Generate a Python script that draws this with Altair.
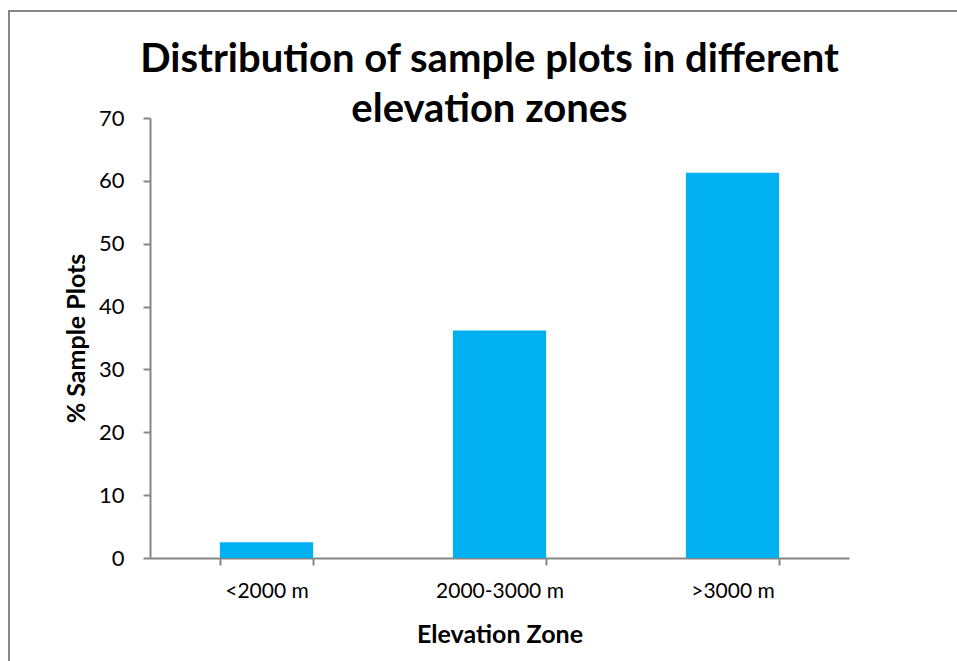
import altair as alt
import pandas as pd

# Share of sample plots per elevation zone (%)
zones = ["<2000 m", "2000-3000 m", ">3000 m"]
share = [2.5, 36.2, 61.3]

df = pd.DataFrame({"zone": zones, "share": share})

AXIS_GRAY = "#868686"
BAR_BLUE = "#00B0F0"
FONT = "Lato"

bars = alt.Chart(df).mark_bar(color=BAR_BLUE).encode(
    x=alt.X(
        "zone:N",
        sort=zones,
        scale=alt.Scale(paddingInner=0.6, paddingOuter=0.3),
        axis=alt.Axis(
            title="Elevation Zone",
            labelAngle=0,
            labelFontSize=21,
            labelFont=FONT,
            labelColor="#000000",
            labelPadding=15,
            labelBaseline="top",
            titleFontSize=25,
            titleFont=FONT,
            titleFontWeight="bold",
            titleColor="#000000",
            titleY=76,
            titleBaseline="middle",
            tickBand="extent",
            tickSize=7,
            tickColor=AXIS_GRAY,
            domainColor=AXIS_GRAY,
            domainWidth=2,
            tickWidth=2,
        ),
    ),
    y=alt.Y(
        "share:Q",
        scale=alt.Scale(domain=[0, 70]),
        axis=alt.Axis(
            title="% Sample Plots",
            values=[0, 10, 20, 30, 40, 50, 60, 70],
            grid=False,
            labelFontSize=22,
            labelFont=FONT,
            labelColor="#000000",
            labelPadding=19,
            titleFontSize=25,
            titleFont=FONT,
            titleFontWeight="bold",
            titleColor="#000000",
            titleX=-74,
            titleY=220,
            titleAngle=-90,
            titleAlign="center",
            titleBaseline="middle",
            tickSize=7,
            tickColor=AXIS_GRAY,
            domainColor=AXIS_GRAY,
            domainWidth=2,
            tickWidth=2,
        ),
    ),
)

# Outer chart-area frame
frame = alt.Chart(df).mark_rect(
    filled=False, stroke=AXIS_GRAY, strokeWidth=2, clip=False
).encode(
    x=alt.value(-141), x2=alt.value(830), y=alt.value(-107), y2=alt.value(600)
)

chart = (
    alt.layer(frame, bars)
    .properties(
        width=699,
        height=440,
        background="#ffffff",
        autosize=alt.AutoSizeParams(type="none"),
        padding={"left": 150, "top": 118, "right": 108, "bottom": 103},
        title=alt.TitleParams(
            text=["Distribution of sample plots in different", "elevation zones"],
            font=FONT,
            fontSize=40,
            fontWeight="bold",
            color="#000000",
            anchor="middle",
            baseline="bottom",
            lineHeight=50,
            dx=-10,
            dy=160,
            offset=0,
        ),
    )
    .configure_view(strokeWidth=0, stroke="transparent")
)

chart.save("out.html", embed_options={"renderer": "svg", "actions": False})
